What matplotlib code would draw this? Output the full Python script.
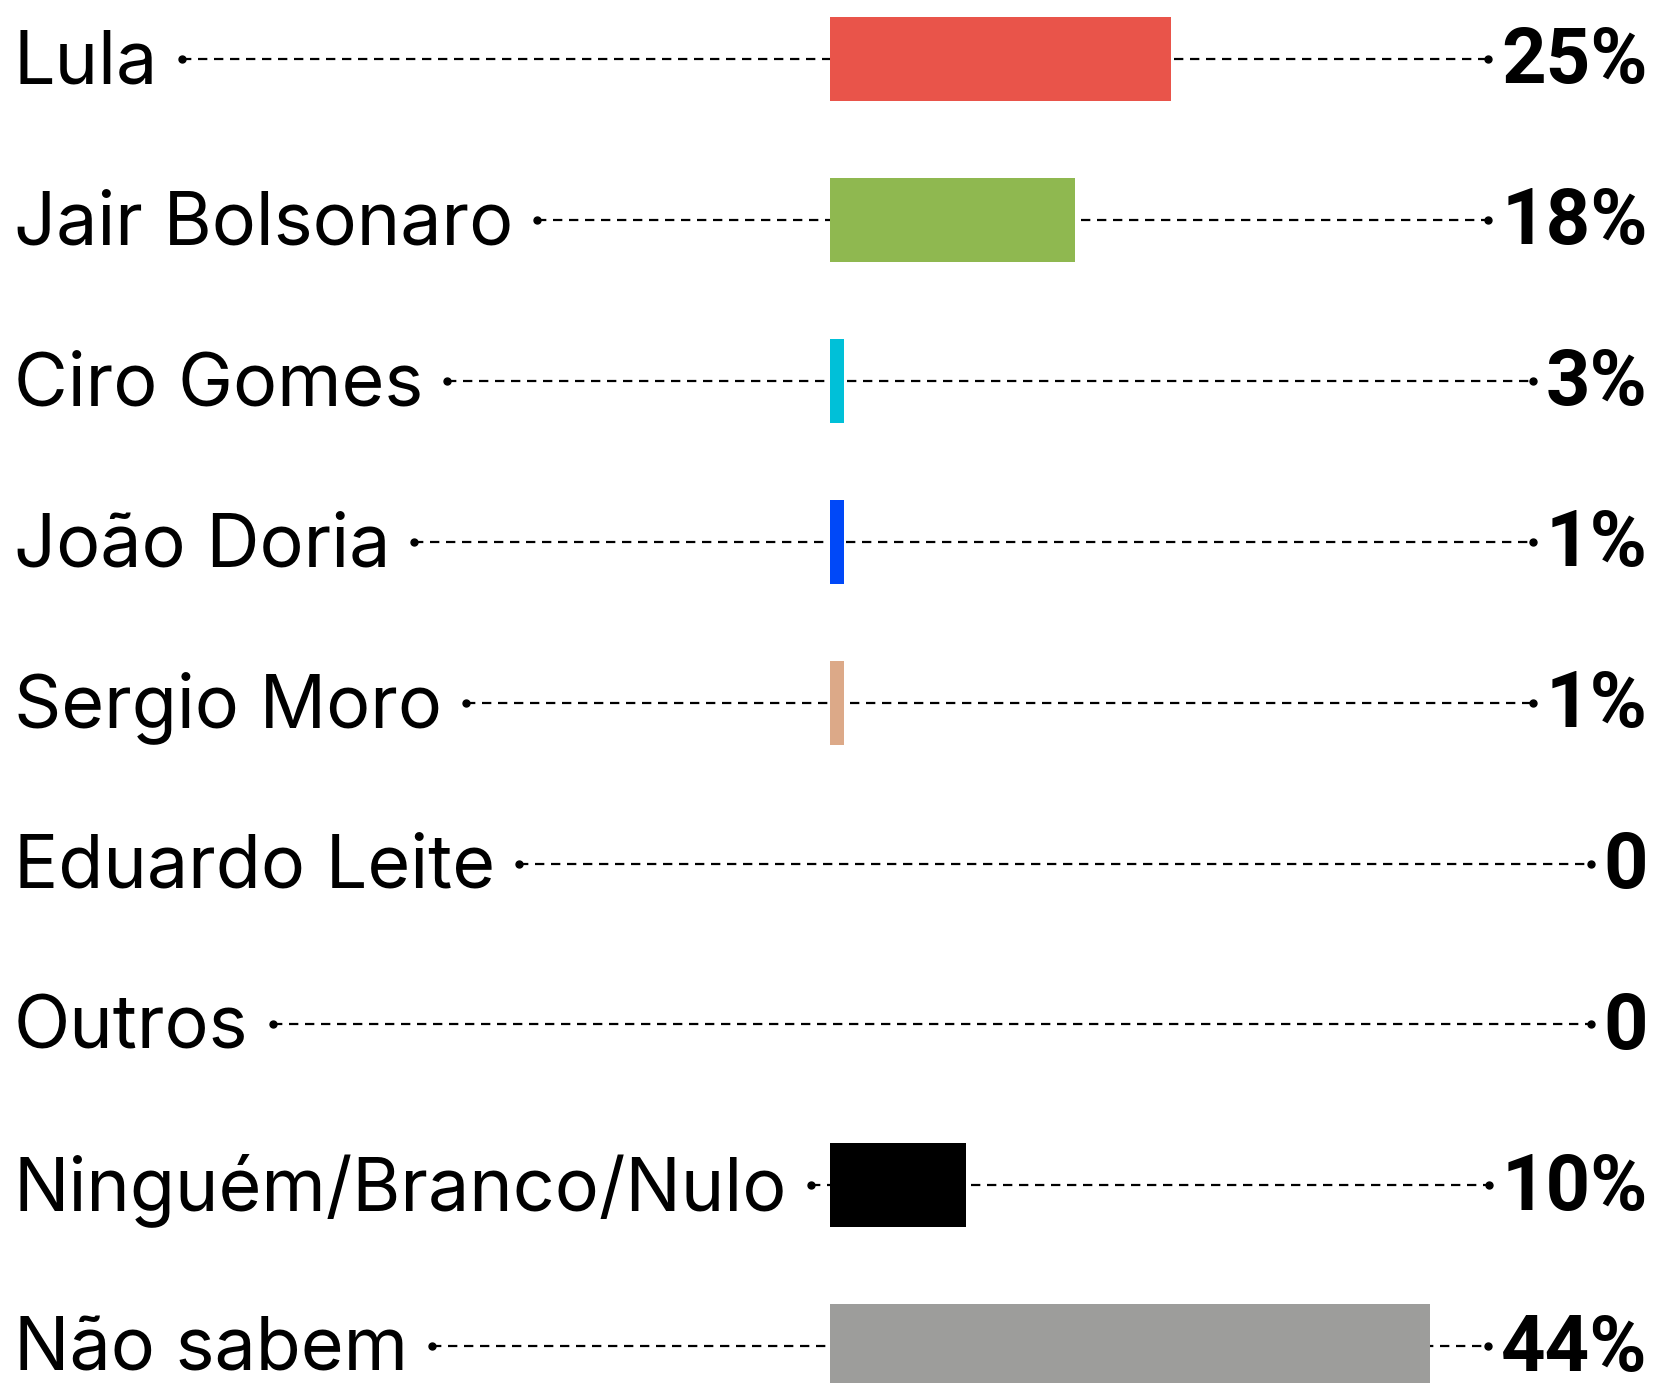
import matplotlib
matplotlib.use("Agg")
import matplotlib.pyplot as plt

names = ["Lula", "Jair Bolsonaro", "Ciro Gomes", "João Doria", "Sergio Moro",
         "Eduardo Leite", "Outros", "Ninguém/Branco/Nulo", "Não sabem"]
value_labels = ["25%", "18%", "3%", "1%", "1%", "0", "0", "10%", "44%"]
# bar lengths as they appear in the picture (small bars drawn at ~1)
bar_values = [25, 18, 1, 1, 1, 0, 0, 10, 44]
colors = ["#E9544A", "#8FB850", "#00C0D8", "#0048F8", "#DCA988",
          "#FFFFFF", "#FFFFFF", "#000000", "#9D9D9B"]

W, H = 1653, 1383
px_per_pct = 13.63
bar_x0 = 830
row0, row_h = 59, 160.9

fig = plt.figure(figsize=(W / 100, H / 100), dpi=100)
ax = fig.add_axes([0, 0, 1, 1])
ax.set_xlim(-bar_x0 / px_per_pct, (W - bar_x0) / px_per_pct)
ax.set_ylim((H - row0) / row_h, -row0 / row_h)
ax.axis("off")

ypos = list(range(len(names)))
ax.barh(ypos, bar_values, height=0.522, left=0, color=colors, zorder=3)

fig.canvas.draw()
r = fig.canvas.get_renderer()
inv = ax.transData.inverted()
x_left = inv.transform((14, 0))[0]
x_right = inv.transform((W - 5, 0))[0]

for i, (n, v) in enumerate(zip(names, value_labels)):
    t1 = ax.text(x_left, i + 0.152, n, fontsize=53, family="Inter",
                 ha="left", va="baseline", color="black")
    t2 = ax.text(x_right, i + 0.152, v, fontsize=56, family="Roboto",
                 fontweight="bold", ha="right", va="baseline", color="black")
    e1 = t1.get_window_extent(renderer=r)
    e2 = t2.get_window_extent(renderer=r)
    xa = inv.transform((e1.x1 + 24, 0))[0]
    xb = inv.transform((e2.x0 - 13, 0))[0]
    ax.plot([xa, xb], [i, i], color="black", lw=1.6,
            dashes=(4.2, 3.0), zorder=1)
    ax.plot([xa, xb], [i, i], "o", color="black", ms=5, zorder=2)

fig.savefig("out.png", dpi=100, facecolor="white")
